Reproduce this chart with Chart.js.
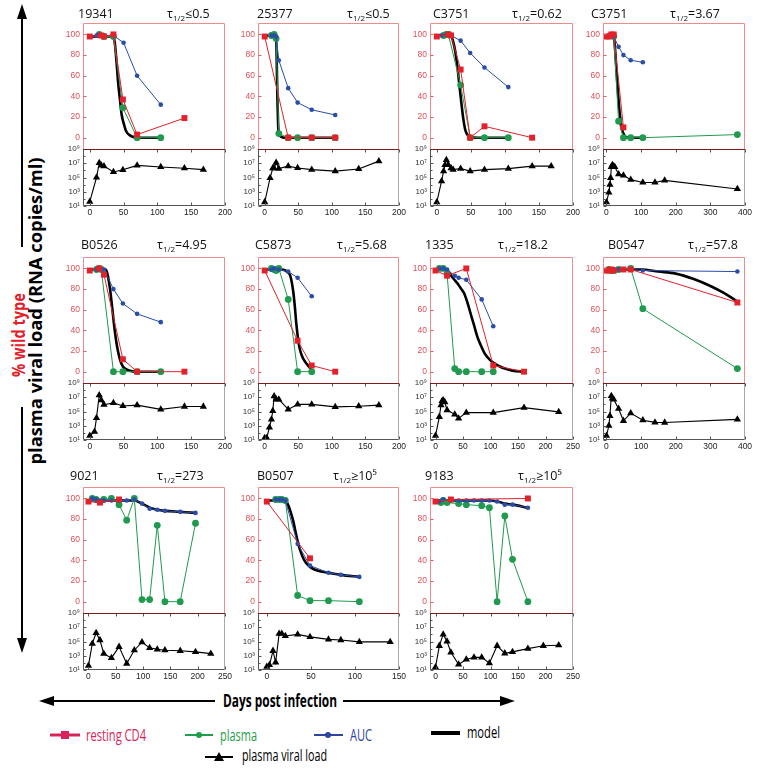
<!DOCTYPE html>
<html>
<head>
<meta charset="utf-8">
<script src="https://cdn.jsdelivr.net/npm/chart.js@4.4.1/dist/chart.umd.min.js"></script>
<style>
  body { margin: 0; background: #fff; }
  #page { position: relative; width: 762px; height: 769px; overflow: hidden; font-family: 'Open Sans', sans-serif; }
  #page canvas { position: absolute; }
  .ttl { position: absolute; font-size: 12.5px; line-height: 1; color: #111; white-space: nowrap; }
  .ttl sub { font-size: 8px; vertical-align: -3px; line-height: 0; }
  svg { position: absolute; left: 0; top: 0; }
</style>
</head>
<body>
<div id="page">
<svg width="762" height="769" font-family="'Open Sans', sans-serif">
  <line x1="22" y1="17" x2="22" y2="247" stroke="#000" stroke-width="2"/>
  <line x1="22" y1="407" x2="22" y2="640" stroke="#000" stroke-width="2"/>
  <polygon points="22,4 17,19 27,19" fill="#000"/>
  <polygon points="22,653 17,638 27,638" fill="#000"/>
  <text transform="translate(25,335) rotate(-90)" text-anchor="middle" fill="#e3202a" font-weight="bold" font-size="17" textLength="84" lengthAdjust="spacingAndGlyphs">% wild type</text>
  <text transform="translate(42,311) rotate(-90)" text-anchor="middle" fill="#000" font-weight="bold" font-size="17" textLength="307" lengthAdjust="spacingAndGlyphs">plasma viral load (RNA copies/ml)</text>

  <line x1="52" y1="701" x2="215" y2="701" stroke="#000" stroke-width="2"/>
  <line x1="343" y1="701" x2="503" y2="701" stroke="#000" stroke-width="2"/>
  <polygon points="39,701 54,696 54,706" fill="#000"/>
  <polygon points="515,701 500,696 500,706" fill="#000"/>
  <text x="280" y="707" text-anchor="middle" font-weight="bold" font-size="17" textLength="114" lengthAdjust="spacingAndGlyphs">Days post infection</text>

  <line x1="50" y1="735" x2="80" y2="735" stroke="#d6245a" stroke-width="3"/>
  <rect x="61" y="731" width="8" height="8" fill="#d6245a"/>
  <text x="86" y="741" fill="#d6245a" font-size="16" textLength="60" lengthAdjust="spacingAndGlyphs">resting CD4</text>
  <line x1="185" y1="735" x2="213" y2="735" stroke="#1e9e4a" stroke-width="2"/>
  <circle cx="199" cy="735" r="3" fill="#1e9e4a"/>
  <text x="220" y="741" fill="#1e9e4a" font-size="16" textLength="37" lengthAdjust="spacingAndGlyphs">plasma</text>
  <line x1="314" y1="735" x2="343" y2="735" stroke="#2e44a0" stroke-width="2"/>
  <circle cx="328" cy="735" r="3" fill="#2e44a0"/>
  <text x="350" y="741" fill="#2e44a0" font-size="16" textLength="22" lengthAdjust="spacingAndGlyphs">AUC</text>
  <line x1="431" y1="733" x2="460" y2="733" stroke="#000" stroke-width="4"/>
  <text x="467" y="738" fill="#000" font-size="16" textLength="33" lengthAdjust="spacingAndGlyphs">model</text>
  <line x1="205" y1="757" x2="233" y2="757" stroke="#000" stroke-width="2"/>
  <polygon points="219,752 224,761 214,761" fill="#000"/>
  <text x="242" y="761" fill="#000" font-size="16" textLength="85" lengthAdjust="spacingAndGlyphs">plasma viral load</text>
</svg>
</div>
<script>
// panel labels
const animalIds = ['19341', '25377', 'C3751', 'C3751', 'B0526', 'C5873', '1335', 'B0547', '9021', 'B0507', '9183'];
const halfLives = ['≤0.5', '≤0.5', '=0.62', '=3.67', '=4.95', '=5.68', '=18.2', '=57.8', '=273', '≥10⁵', '≥10⁵'];

// x axis ticks (days)
const ticks150 = [0, 50, 100, 150];
const ticks200 = [0, 50, 100, 150, 200];
const ticks250 = [0, 50, 100, 150, 200, 250];
const ticks400 = [0, 100, 200, 300, 400];
const wtTicks = [0, 20, 40, 60, 80, 100];
const vlTicks = [1e1, 1e2, 1e3, 1e4, 1e5, 1e6, 1e7, 1e8, 1e9];
const vlLabels = { 1e1: '10¹', 1e3: '10³', 1e5: '10⁵', 1e7: '10⁷', 1e9: '10⁹' };

// [day, value] — cd4: resting CD4, pl: plasma, auc: AUC, mod: model (% wild type); vl: plasma viral load
const cd4_1 = [[0,98],[17,99],[21,98],[35,100],[49,37],[70,3],[140,19]];
const pl_1  = [[14,100],[21,98],[35,98],[49,29],[70,0],[105,0]];
const auc_1 = [[10,99],[14,100],[21,99],[35,99],[50,92],[70,60],[105,32]];
const mod_1 = [[0,98],[34,98],[37,92],[40,70],[42,53],[45,35],[47,23],[51,12],[54,6],[60,2],[66,0.5],[75,0],[105,0]];
const vl_1  = [[0,40],[10,1e5],[14,1.1e7],[17,5e6],[21,4e6],[35,6e5],[49,1.2e6],[70,5e6],[105,3e6],[140,2e6],[168,1.3e6]];

const cd4_2 = [[0,98],[35,0],[70,0],[105,0]];
const pl_2  = [[10,99],[14,100],[17,96],[21,4],[35,0],[49,0],[70,0],[105,0]];
const auc_2 = [[10,99],[14,99],[17,98],[21,75],[35,48],[49,34],[70,27],[105,22]];
const mod_2 = [[0,99],[17,98],[18,70],[19,35],[20,12],[21,4],[24,1],[30,0],[105,0]];
const vl_2  = [[0,36],[8,9e4],[12,2e6],[14,2e6],[17,1.2e7],[21,1.8e6],[35,4e6],[49,2.2e6],[70,1.3e6],[105,8e5],[140,1.6e6],[170,2e7]];

const cd4_3 = [[0,98],[17,100],[21,99],[35,66],[49,0],[70,11],[140,0]];
const pl_3  = [[10,99],[14,100],[17,100],[35,51],[49,0],[70,0],[105,0]];
const auc_3 = [[7,99],[14,100],[21,99],[35,94],[49,82],[70,68],[105,49]];
const mod_3 = [[0,99],[21,99],[24,93],[27,84],[30,70],[33,52],[36,34],[39,18],[42,7],[46,2],[50,0.5],[60,0],[105,0]];
const vl_3  = [[0,35],[7,3e4],[10,8e5],[12,6e6],[14,3e7],[17,6e6],[21,2e6],[24,1.3e6],[35,1.8e6],[49,8e5],[70,1.3e6],[105,1.8e6],[140,4e6],[168,4e6]];

const cd4_4 = [[0,98],[7,98],[14,100],[21,100],[49,10]];
const pl_4  = [[14,99],[21,98],[35,16],[49,0],[70,0],[105,0],[378,3]];
const auc_4 = [[7,99],[14,99],[21,98],[35,88],[49,80],[70,75],[105,73]];
const mod_4 = [[0,99],[21,99],[25,85],[29,65],[33,45],[37,28],[41,16],[45,8],[49,4],[55,1],[65,0],[105,0]];
const vl_4  = [[0,35],[7,800],[10,1e4],[12,9e4],[14,3e6],[17,6e6],[21,4e6],[24,3e6],[35,3e5],[49,2e5],[70,5e4],[105,2e4],[140,2e4],[168,4e4],[378,2.5e3]];

const cd4_5 = [[0,98],[14,100],[21,94],[49,12],[70,0],[140,0]];
const pl_5  = [[10,99],[14,100],[17,99],[35,0],[49,0],[70,0],[105,0]];
const auc_5 = [[10,99],[14,99],[21,99],[35,80],[49,66],[70,56],[105,48]];
const mod_5 = [[0,99],[24,99],[27,92],[30,80],[33,63],[36,45],[39,30],[42,19],[45,11],[49,5],[55,2],[62,0.5],[70,0],[105,0]];
const vl_5  = [[0,40],[7,150],[10,1.3e4],[14,2e7],[17,4e6],[21,9e5],[35,1.6e6],[49,6e5],[70,8e5],[105,2e5],[140,5e5],[168,5e5]];

const cd4_6 = [[0,98],[49,30],[70,6],[105,0]];
const pl_6  = [[10,100],[14,99],[17,98],[21,100],[35,70],[49,0],[70,0]];
const auc_6 = [[10,99],[14,100],[21,99],[35,97],[49,91],[70,73]];
const mod_6 = [[0,99],[25,99],[35,96],[38,93],[41,84],[43,75],[45,62],[47,47],[50,30],[53,20],[57,13],[62,8],[67,4],[70,3]];
const vl_6  = [[0,20],[3,20],[7,600],[10,8e3],[12,1.2e5],[14,1.4e7],[17,5e6],[21,5e6],[35,2e5],[49,1e6],[70,1e6],[105,4.5e5],[140,5.5e5],[170,8e5]];

const cd4_7 = [[0,98],[21,93],[56,100],[105,6],[161,0]];
const pl_7  = [[7,100],[14,100],[21,95],[35,3],[42,0],[56,0],[84,0],[105,0]];
const auc_7 = [[7,100],[14,100],[21,99],[35,93],[42,91],[56,89],[84,70],[105,44]];
const mod_7 = [[0,99],[20,99],[25,96],[30,92],[36,88],[42,84],[47,80],[52,76],[58,67],[64,56],[70,45],[76,34],[82,26],[89,18],[98,12],[107,8],[117,5],[126,3],[140,1],[161,0]];
const vl_7  = [[0,40],[7,1.8e4],[10,8e5],[12,3e6],[14,4e6],[17,2e6],[21,1.6e5],[35,4e4],[42,1.1e4],[56,7e4],[105,7e4],[161,3.5e5],[224,9e4]];

const cd4_8 = [[0,98],[7,98],[14,99],[21,98],[49,99],[70,99],[378,67]];
const pl_8  = [[7,99],[14,98],[21,98],[35,99],[70,100],[105,61],[378,3]];
const auc_8 = [[7,99],[14,99],[21,99],[35,99],[70,99],[105,98],[378,97]];
const mod_8 = [[0,99],[70,99],[100,99],[150,97],[200,95],[250,90],[300,83],[340,76],[378,68]];
const vl_8  = [[0,40],[7,1e3],[10,2.5e4],[14,1.5e7],[17,7e6],[21,5e6],[35,2.5e5],[49,5e3],[70,6e4],[105,6e3],[140,3e3],[168,2.8e3],[378,8e3]];

const cd4_9 = [[0,97],[21,96],[56,99]];
const pl_9  = [[7,100],[14,99],[28,99],[42,100],[56,94],[70,79],[84,100],[98,2],[112,2],[126,74],[140,0],[168,0],[196,76]];
const auc_9 = [[7,100],[14,99],[21,98],[28,98],[42,98],[56,98],[70,98],[84,99],[98,95],[112,90],[126,89],[140,88],[168,87],[196,86]];
const mod_9 = [[0,98],[84,98],[98,95],[112,91],[126,89],[140,88],[168,87],[196,86]];
const vl_9  = [[0,40],[7,5e4],[14,1.6e6],[21,1.6e5],[28,2e3],[42,500],[56,1.8e4],[70,80],[84,6e3],[98,8e4],[112,1.3e4],[126,8e3],[140,6e3],[168,5e3],[196,3.5e3],[224,2e3]];

const cd4_10 = [[0,97],[49,42]];
const pl_10  = [[10,99],[14,99],[17,99],[21,98],[35,6],[49,1],[70,1],[105,0]];
const auc_10 = [[10,99],[14,99],[17,99],[21,98],[35,56],[49,35],[70,28],[84,26],[105,24]];
const mod_10 = [[0,98],[21,98],[24,94],[27,87],[30,78],[33,66],[36,55],[39,47],[42,41],[46,36],[50,33],[58,30],[70,28],[84,26],[105,24]];
const vl_10  = [[0,30],[3,50],[7,5e3],[10,120],[14,1.3e6],[17,1.3e6],[21,6e5],[35,1e6],[49,4.5e5],[70,2e5],[84,1.6e5],[105,9e4],[140,9e4]];

const cd4_11 = [[0,97],[28,99],[168,100]];
const pl_11  = [[10,96],[14,98],[21,96],[42,95],[56,94],[84,93],[98,91],[112,0],[126,83],[140,41],[168,0]];
const auc_11 = [[7,97],[14,99],[28,98],[42,98],[56,98],[70,98],[84,98],[98,98],[112,97],[126,94],[140,94],[168,91]];
const mod_11 = [[0,98],[98,98],[112,97],[126,95],[140,94],[168,91]];
const vl_11  = [[0,25],[7,2.5e4],[14,1e6],[21,1e5],[28,3e3],[42,60],[56,300],[70,600],[84,600],[98,90],[112,2.5e4],[126,2.2e3],[140,3.5e3],[168,1e4],[196,2.5e4],[224,3e4]];

(function() {
  const RED = '#e3212b', GREEN = '#1f9a4e', BLUE = '#2b4ca8';
  const FONT = "'Liberation Sans', Arial, sans-serif";
  const cols = [83, 258, 430, 603];
  const colW = [142, 141, 143, 142];
  const rows = [23, 257, 487];
  const TOP_H = 126, BOT_H = 57, AX_W = 26, AX_H = 15, PAD_T = 8, PAD_R = 14;

  const panels = [
    { cd4: cd4_1, pl: pl_1, auc: auc_1, mod: mod_1, vl: vl_1, xMax: 200, xTicks: ticks200, idX: 78, tauX: 167 },
    { cd4: cd4_2, pl: pl_2, auc: auc_2, mod: mod_2, vl: vl_2, xMax: 200, xTicks: ticks200, idX: 257, tauX: 347 },
    { cd4: cd4_3, pl: pl_3, auc: auc_3, mod: mod_3, vl: vl_3, xMax: 200, xTicks: ticks200, idX: 433, tauX: 512 },
    { cd4: cd4_4, pl: pl_4, auc: auc_4, mod: mod_4, vl: vl_4, xMax: 400, xTicks: ticks400, idX: 591, tauX: 670 },
    { cd4: cd4_5, pl: pl_5, auc: auc_5, mod: mod_5, vl: vl_5, xMax: 200, xTicks: ticks200, idX: 81, tauX: 157 },
    { cd4: cd4_6, pl: pl_6, auc: auc_6, mod: mod_6, vl: vl_6, xMax: 200, xTicks: ticks200, idX: 255, tauX: 337 },
    { cd4: cd4_7, pl: pl_7, auc: auc_7, mod: mod_7, vl: vl_7, xMax: 250, xTicks: ticks250, idX: 425, tauX: 498 },
    { cd4: cd4_8, pl: pl_8, auc: auc_8, mod: mod_8, vl: vl_8, xMax: 400, xTicks: ticks400, idX: 608, tauX: 688 },
    { cd4: cd4_9, pl: pl_9, auc: auc_9, mod: mod_9, vl: vl_9, xMax: 250, xTicks: ticks250, idX: 70, tauX: 157 },
    { cd4: cd4_10, pl: pl_10, auc: auc_10, mod: mod_10, vl: vl_10, xMax: 150, xTicks: ticks150, idX: 257, tauX: 333 },
    { cd4: cd4_11, pl: pl_11, auc: auc_11, mod: mod_11, vl: vl_11, xMax: 250, xTicks: ticks250, idX: 425, tauX: 518 }
  ];
  const titleTop = [7.5, 239, 470];

  const pts = a => a.map(p => ({ x: p[0], y: p[1] }));

  // box outlines and inward tick marks, MATLAB style
  const frame = {
    id: 'frame',
    afterDraw(chart) {
      const { ctx, chartArea: a, scales: { x, wt, vl } } = chart;
      const L = Math.round(a.left) + 0.5, R = Math.round(a.right) - 0.5;
      const T = Math.round(wt.top) + 0.5, S = Math.round(wt.bottom) + 0.5, B = Math.round(vl.bottom) - 0.5;
      ctx.save();
      ctx.lineWidth = 1;
      ctx.strokeStyle = '#a8a8a8';
      ctx.beginPath(); ctx.moveTo(R, S); ctx.lineTo(R, B); ctx.stroke();
      ctx.strokeStyle = '#555';
      ctx.beginPath(); ctx.moveTo(L, S); ctx.lineTo(L, B); ctx.lineTo(R, B); ctx.stroke();
      // ticks
      ctx.beginPath();
      vl.ticks.forEach(t => {
        const y = Math.round(vl.getPixelForValue(t.value)) + 0.5;
        ctx.moveTo(L, y); ctx.lineTo(L + (vlLabels[t.value] ? 3 : 2), y);
      });
      x.ticks.forEach(t => {
        const px = Math.round(x.getPixelForValue(t.value)) + 0.5;
        ctx.moveTo(px, B); ctx.lineTo(px, B - 3);
        ctx.moveTo(px, S); ctx.lineTo(px, S + 3);
      });
      ctx.stroke();
      ctx.strokeStyle = '#ee8c8c';
      ctx.beginPath(); ctx.moveTo(L, S); ctx.lineTo(L, T); ctx.lineTo(R, T); ctx.lineTo(R, S); ctx.stroke();
      ctx.strokeStyle = '#e06060';
      ctx.beginPath();
      wt.ticks.forEach(t => {
        const y = Math.round(wt.getPixelForValue(t.value)) + 0.5;
        ctx.moveTo(L, y); ctx.lineTo(L + 3, y);
      });
      ctx.stroke();
      ctx.strokeStyle = '#7e1a1a';
      ctx.beginPath(); ctx.moveTo(L - 0.5, S); ctx.lineTo(R + 0.5, S); ctx.stroke();
      ctx.restore();
    }
  };

  const page = document.getElementById('page');

  panels.forEach((p, i) => {
    const c = i % 4, r = Math.floor(i / 4);
    const cv = document.createElement('canvas');
    const w = colW[c] + AX_W + PAD_R, h = PAD_T + TOP_H + BOT_H + AX_H;
    cv.width = w; cv.height = h;
    cv.style.left = (cols[c] - AX_W) + 'px';
    cv.style.top = (rows[r] - PAD_T) + 'px';
    page.appendChild(cv);

    const ttl = document.createElement('div');
    ttl.className = 'ttl';
    ttl.style.left = p.idX + 'px';
    ttl.style.top = titleTop[r] + 'px';
    ttl.textContent = animalIds[i];
    page.appendChild(ttl);
    const tau = document.createElement('div');
    tau.className = 'ttl';
    tau.style.left = p.tauX + 'px';
    tau.style.top = titleTop[r] + 'px';
    tau.innerHTML = 'τ<sub>1/2</sub>' + halfLives[i];
    page.appendChild(tau);

    new Chart(cv, {
      type: 'line',
      data: {
        datasets: [
          { data: pts(p.cd4), yAxisID: 'wt', borderColor: RED, backgroundColor: RED, borderWidth: 1,
            pointStyle: 'rect', pointRadius: 4.2, pointBorderWidth: 0, order: 0 },
          { data: pts(p.auc), yAxisID: 'wt', borderColor: BLUE, backgroundColor: BLUE, borderWidth: 1,
            pointRadius: 2.3, pointBorderWidth: 0, order: 1 },
          { data: pts(p.pl), yAxisID: 'wt', borderColor: GREEN, backgroundColor: GREEN, borderWidth: 1,
            pointRadius: 3.4, pointBorderWidth: 0, order: 2 },
          { data: pts(p.mod), yAxisID: 'wt', borderColor: '#000', borderWidth: 2.6, pointRadius: 0,
            cubicInterpolationMode: 'monotone', order: 3 },
          { data: pts(p.vl), yAxisID: 'vl', borderColor: '#000', backgroundColor: '#000', borderWidth: 1.1,
            pointStyle: 'triangle', pointRadius: 4.2, pointBorderWidth: 0, order: 4 }
        ]
      },
      options: {
        responsive: false,
        animation: false,
        events: [],
        layout: { padding: { top: PAD_T, right: PAD_R, left: 0, bottom: 0 } },
        plugins: { legend: { display: false }, tooltip: { enabled: false } },
        scales: {
          x: {
            type: 'linear', min: -10, max: p.xMax,
            afterBuildTicks: s => { s.ticks = p.xTicks.map(v => ({ value: v })); },
            afterFit: s => { s.height = AX_H; },
            grid: { display: false, drawTicks: false }, border: { display: false },
            ticks: { font: { size: 8.5, family: FONT }, color: '#222', padding: 2, maxRotation: 0, autoSkip: false }
          },
          // bottom of the stack first: later scales are placed on top
          vl: {
            type: 'logarithmic', position: 'left', stack: 'panel', stackWeight: BOT_H, min: 10, max: 1e9,
            afterBuildTicks: s => { s.ticks = vlTicks.map(v => ({ value: v })); },
            afterFit: s => { s.width = AX_W; },
            grid: { display: false, drawTicks: false }, border: { display: false },
            ticks: { font: { size: 8, family: FONT }, color: '#333', padding: 3, autoSkip: false,
              callback: v => vlLabels[v] || '' }
          },
          wt: {
            type: 'linear', position: 'left', stack: 'panel', stackWeight: TOP_H, min: -11, max: 111,
            afterBuildTicks: s => { s.ticks = wtTicks.map(v => ({ value: v })); },
            afterFit: s => { s.width = AX_W; },
            grid: { display: false, drawTicks: false }, border: { display: false },
            ticks: { font: { size: 8.5, family: FONT }, color: '#e0505a', padding: 3 }
          }
        }
      },
      plugins: [frame]
    });
  });
})();
</script>
</body>
</html>
